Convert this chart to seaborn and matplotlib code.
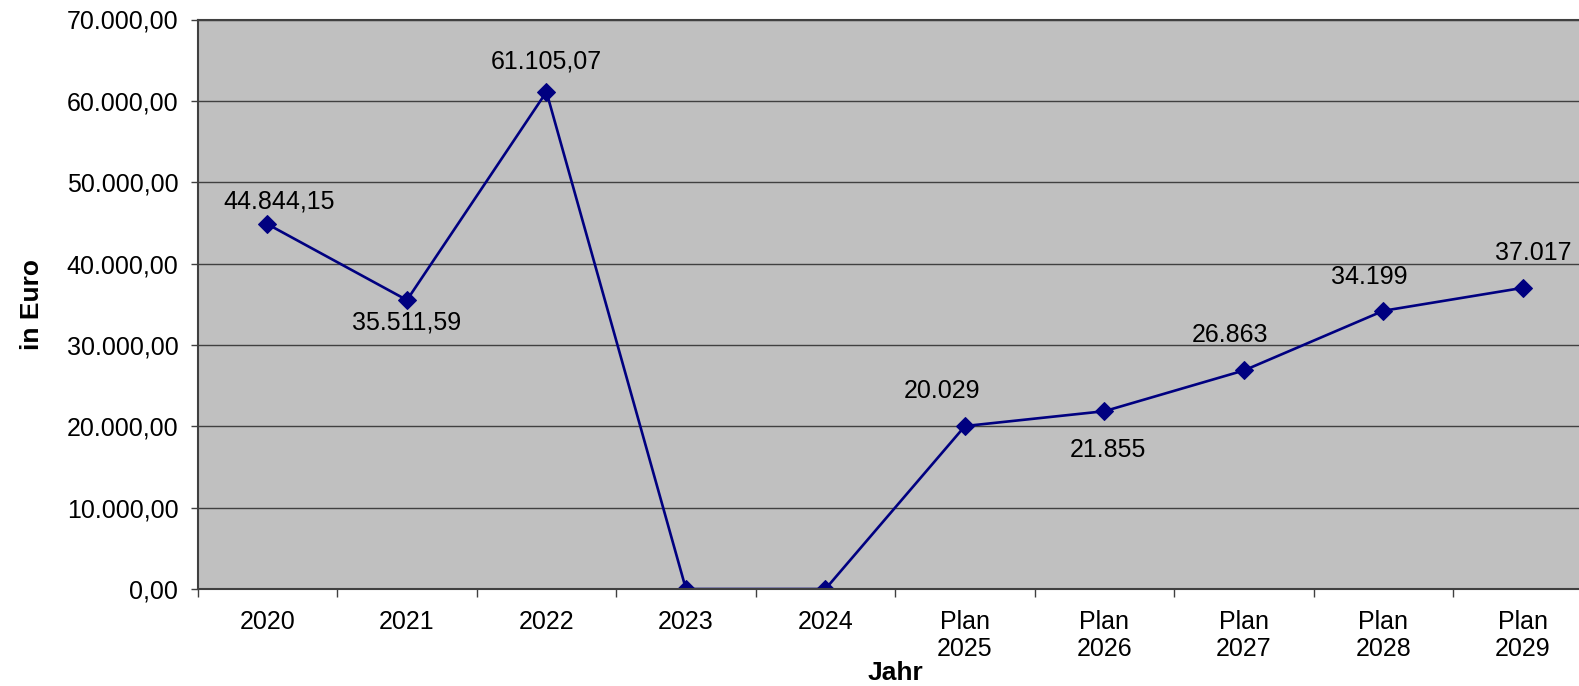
import matplotlib
matplotlib.use("Agg")
import matplotlib.pyplot as plt
import seaborn as sns
import pandas as pd
from matplotlib.ticker import FuncFormatter, FixedLocator

# data
jahre = ["2020", "2021", "2022", "2023", "2024",
         "Plan\n2025", "Plan\n2026", "Plan\n2027", "Plan\n2028", "Plan\n2029"]
werte = [44844.15, 35511.59, 61105.07, 0, 0,
         20029, 21855, 26863, 34199, 37017]
beschriftung = ["44.844,15", "35.511,59", "61.105,07", "", "",
                "20.029", "21.855", "26.863", "34.199", "37.017"]
# label offsets in px (dx, dy) relative to the point
versatz = [(12, 23), (0, -22), (0, 30), (0, 0), (0, 0),
           (-23, 35), (3, -39), (-14, 35), (-14, 34), (10, 35)]

df = pd.DataFrame({"Jahr": jahre, "Wert": werte})

sns.set_style("white")
plt.rcParams["font.family"] = ["Liberation Sans", "DejaVu Sans"]
plt.rcParams["text.color"] = "black"
plt.rcParams["axes.labelcolor"] = "black"

fig = plt.figure(figsize=(15.79, 6.86), dpi=100)
ax = fig.add_axes([197.7 / 1579, 97 / 686, 1395 / 1579, 569.5 / 686])
ax.set_facecolor("#C0C0C0")

sns.lineplot(data=df, x="Jahr", y="Wert", ax=ax, color="#000080",
             marker="D", markersize=9, linewidth=1.9,
             markeredgecolor="#000080", sort=False)

for i, (v, txt, (dx, dy)) in enumerate(zip(werte, beschriftung, versatz)):
    if txt:
        ax.annotate(txt, (i, v), xytext=(dx * 0.72, dy * 0.72),
                    textcoords="offset points", ha="center", va="center",
                    fontsize=18, color="black")

ax.set_xlim(-0.5, 9.5)
ax.set_ylim(0, 70000)
ax.yaxis.set_major_locator(FixedLocator(range(0, 70001, 10000)))
ax.yaxis.set_major_formatter(FuncFormatter(
    lambda v, p: f"{v:,.2f}".replace(",", "X").replace(".", ",").replace("X", ".")))
ax.grid(axis="y", color="#404040", linewidth=1)
ax.set_axisbelow(True)

ax.set_xticks(range(len(jahre)))
ax.set_xticklabels(jahre, fontsize=18, linespacing=1.15)
ax.set_xticks([i - 0.5 for i in range(len(jahre) + 1)], minor=True)
ax.tick_params(axis="x", which="major", length=0, pad=15, labelcolor="black")
ax.tick_params(axis="x", which="minor", length=6, width=1, color="#404040",
               direction="out", bottom=True)
ax.tick_params(axis="y", length=5, width=1, color="#404040", direction="out",
               labelsize=18, left=True, pad=9, labelcolor="black")

for s in ["left", "bottom", "top"]:
    ax.spines[s].set_color("#404040")
    ax.spines[s].set_linewidth(1.5)
ax.spines["right"].set_visible(False)

ax.set_xlabel("Jahr", fontsize=19, fontweight="bold", labelpad=0)
ax.set_ylabel("in Euro", fontsize=19, fontweight="bold", labelpad=16)

fig.savefig("out.png", dpi=100)
